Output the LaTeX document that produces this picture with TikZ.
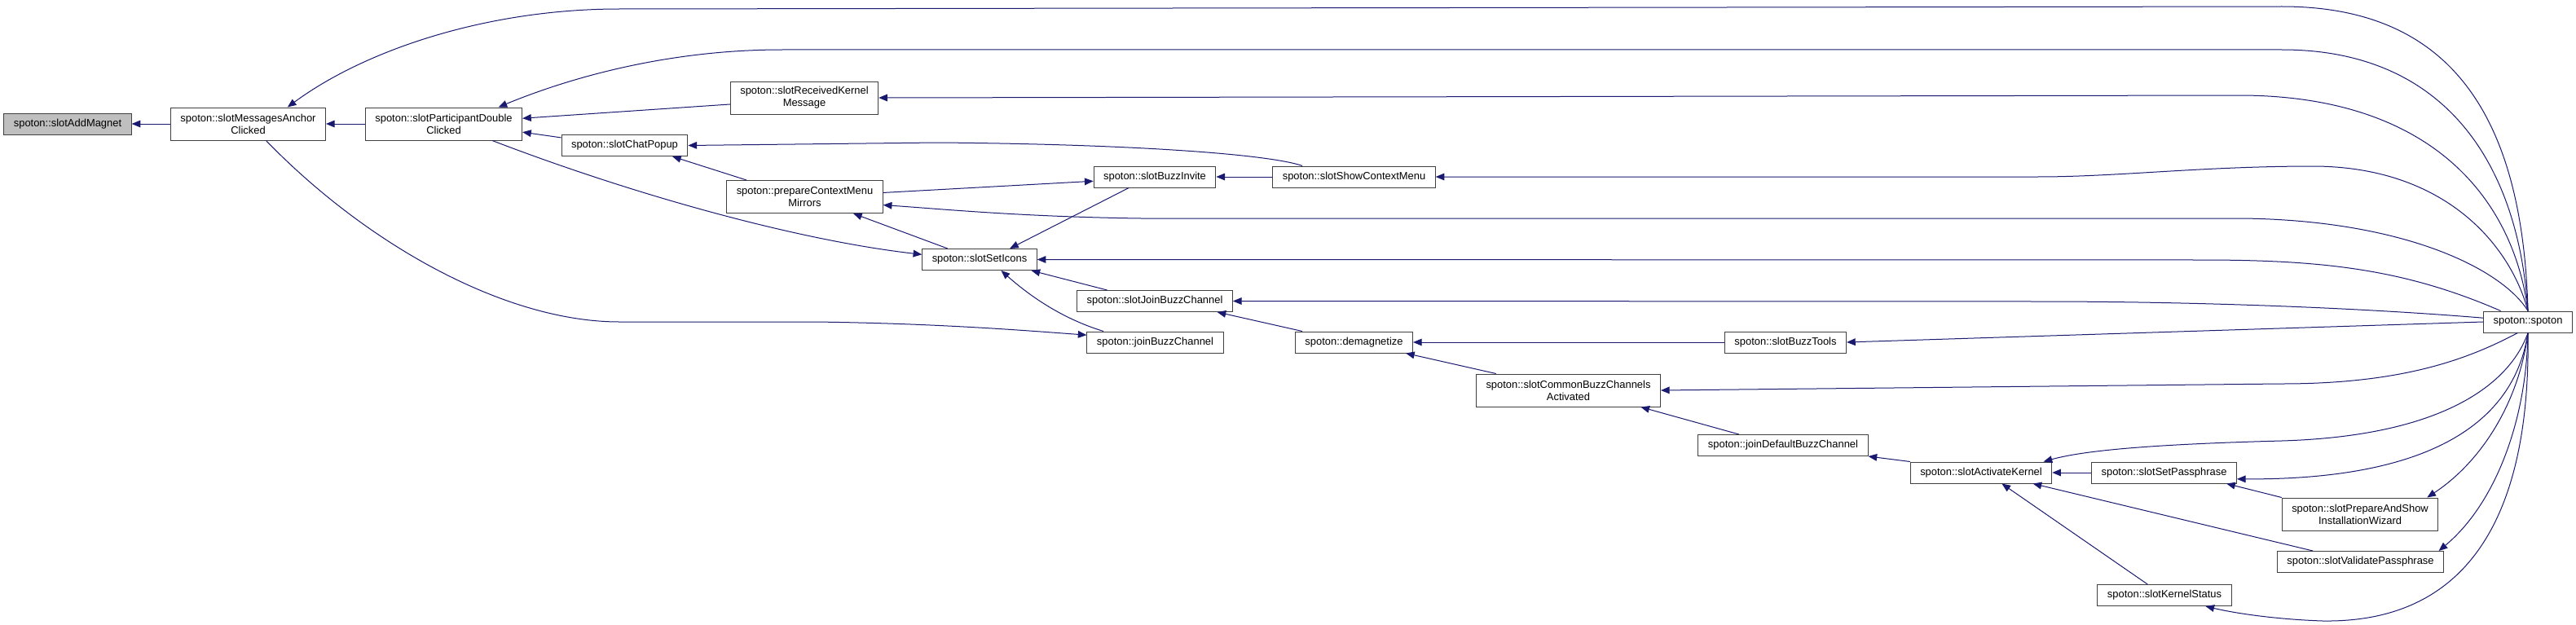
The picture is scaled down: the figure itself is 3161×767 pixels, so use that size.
\documentclass[tikz,border=0pt]{standalone}
\usepackage{fontspec}
\setmainfont{Liberation Sans}
\usetikzlibrary{arrows.meta}
\definecolor{midnightblue}{RGB}{25,25,112}

\begin{document}
\begin{tikzpicture}[
        x=0.75pt, y=-0.75pt,
        >={Triangle[length=8pt,width=6.5pt]},
        every node/.style={font=\fontsize{9.7}{11.3}\selectfont},
        fn/.style={draw=black!75, fill=white, line width=0.75pt,
            inner xsep=9pt, inner ysep=2pt, minimum height=19.5pt, align=center},
        fn2/.style={fn, minimum height=30pt},
        root/.style={fn, fill=black!25},
        call/.style={->, draw=midnightblue, line width=0.75pt}
    ]

        \useasboundingbox (0,0) rectangle (3161,767);

        % Funzioni
        \node[root] (magnet) at (83,152) {spoton::slotAddMagnet};
        \node[fn2] (anchor) at (304.5,152) {spoton::slotMessagesAnchor\\Clicked};
        \node[fn2] (dbl) at (544.5,152) {spoton::slotParticipantDouble\\Clicked};
        \node[fn2] (kmsg) at (987,120) {spoton::slotReceivedKernel\\Message};
        \node[fn] (popup) at (766.5,178.5) {spoton::slotChatPopup};
        \node[fn2] (mirrors) at (987.5,241.5) {spoton::prepareContextMenu\\Mirrors};
        \node[fn] (icons) at (1202,318.5) {spoton::slotSetIcons};
        \node[fn] (invite) at (1417,217) {spoton::slotBuzzInvite};
        \node[fn] (ctxmenu) at (1661.5,217) {spoton::slotShowContextMenu};
        \node[fn] (sjoin) at (1417,369.5) {spoton::slotJoinBuzzChannel};
        \node[fn] (join) at (1417.5,420) {spoton::joinBuzzChannel};
        \node[fn] (demag) at (1661.5,420) {spoton::demagnetize};
        \node[fn] (tools) at (2191,420) {spoton::slotBuzzTools};
        \node[fn2] (common) at (1924.5,479) {spoton::slotCommonBuzzChannels\\Activated};
        \node[fn] (defjoin) at (2188,546.5) {spoton::joinDefaultBuzzChannel};
        \node[fn] (kernel) at (2431,580) {spoton::slotActivateKernel};
        \node[fn] (pass) at (2655.5,580) {spoton::slotSetPassphrase};
        \node[fn2] (wizard) at (2896,631) {spoton::slotPrepareAndShow\\InstallationWizard};
        \node[fn] (valid) at (2896.5,689.5) {spoton::slotValidatePassphrase};
        \node[fn] (kstatus) at (2656,730.5) {spoton::slotKernelStatus};
        \node[fn] (spoton) at (3102,395) {spoton::spoton};

        % Chiamate a sinistra
        \draw[call] (anchor.west) -- (magnet.east);
        \draw[call] (dbl.west) -- (anchor.east);
        \draw[call] (kmsg.185) -- (dbl.4);
        \draw[call] (popup.173) -- (dbl.-6);
        \draw[call] (mirrors.164) -- (popup.-13);
        \draw[call] (ctxmenu.168) .. controls (1560,190) and (1400,177) .. (1150,175) -- (popup.east);
        \draw[call] (dbl.-19) .. controls (780,240) and (980,295) .. (icons.175);
        \draw[call] (mirrors.3) -- (invite.184);
        \draw[call] (ctxmenu.west) -- (invite.east);
        \draw[call] (icons.161) -- (mirrors.-19);
        \draw[call] (invite.203) -- (icons.20);
        \draw[call] (sjoin.167) -- (icons.-12);
        \draw[call] (join.168) .. controls (1300,390) and (1260,360) .. (icons.-27);
        \draw[call] (anchor.-43) .. controls (450,300) and (620,395) .. (760,395)
            -- (1000,395) .. controls (1150,397) and (1250,405) .. (join.174);
        \draw[call] (demag.168) -- (sjoin.-10);
        \draw[call] (tools.west) -- (demag.east);
        \draw[call] (common.167) -- (demag.-12);
        \draw[call] (defjoin.166) -- (common.-13);
        \draw[call] (kernel.north west) -- (defjoin.south east);
        \draw[call] (pass.west) -- (kernel.east);
        \draw[call] (wizard.north west) -- (pass.-10);
        \draw[call] (valid.167) -- (kernel.-12);
        \draw[call] (kstatus.147) -- (kernel.-28);

        % Chiamate da spoton::spoton
        \draw[call] (spoton.north) .. controls (3095,120) and (2990,8) .. (2800,8)
            -- (760,11) .. controls (600,11) and (450,60) .. (anchor.23);
        \draw[call] (spoton.north) .. controls (3090,200) and (3000,61) .. (2800,61)
            -- (960,61) .. controls (820,61) and (700,95) .. (dbl.17);
        \draw[call] (spoton.north) .. controls (3085,250) and (2990,118) .. (2750,117) -- (kmsg.east);
        \draw[call] (spoton.north) .. controls (3080,300) and (3000,205) .. (2840,204)
            .. controls (2700,204) and (2600,217) .. (2500,217) -- (ctxmenu.east);
        \draw[call] (spoton.north) .. controls (3070,330) and (2950,270) .. (2750,268)
            -- (1400,268) .. controls (1250,266) and (1150,256) .. (mirrors.-6);
        \draw[call] (spoton.158) .. controls (2950,330) and (2850,319) .. (2700,319) -- (icons.east);
        \draw[call] (spoton.175) .. controls (2900,378) and (2700,370) .. (2500,370) -- (sjoin.east);
        \draw[call] (spoton.west) -- (tools.east);
        \draw[call] (spoton.-133) .. controls (3030,440) and (2950,471) .. (2800,471) -- (common.east);
        \draw[call] (spoton.south) .. controls (3080,470) and (3000,535) .. (2800,541)
            .. controls (2650,545) and (2560,552) .. (kernel.10);
        \draw[call] (spoton.south) .. controls (3085,520) and (2980,589) .. (pass.-5);
        \draw[call] (spoton.south) .. controls (3090,500) and (3040,570) .. (wizard.14);
        \draw[call] (spoton.south) .. controls (3100,520) and (3060,620) .. (valid.8);
        \draw[call] (spoton.south) .. controls (3105,600) and (3050,765) .. (2850,762)
            .. controls (2790,760) and (2740,752) .. (kstatus.-15);

    \end{tikzpicture}
\end{document}
